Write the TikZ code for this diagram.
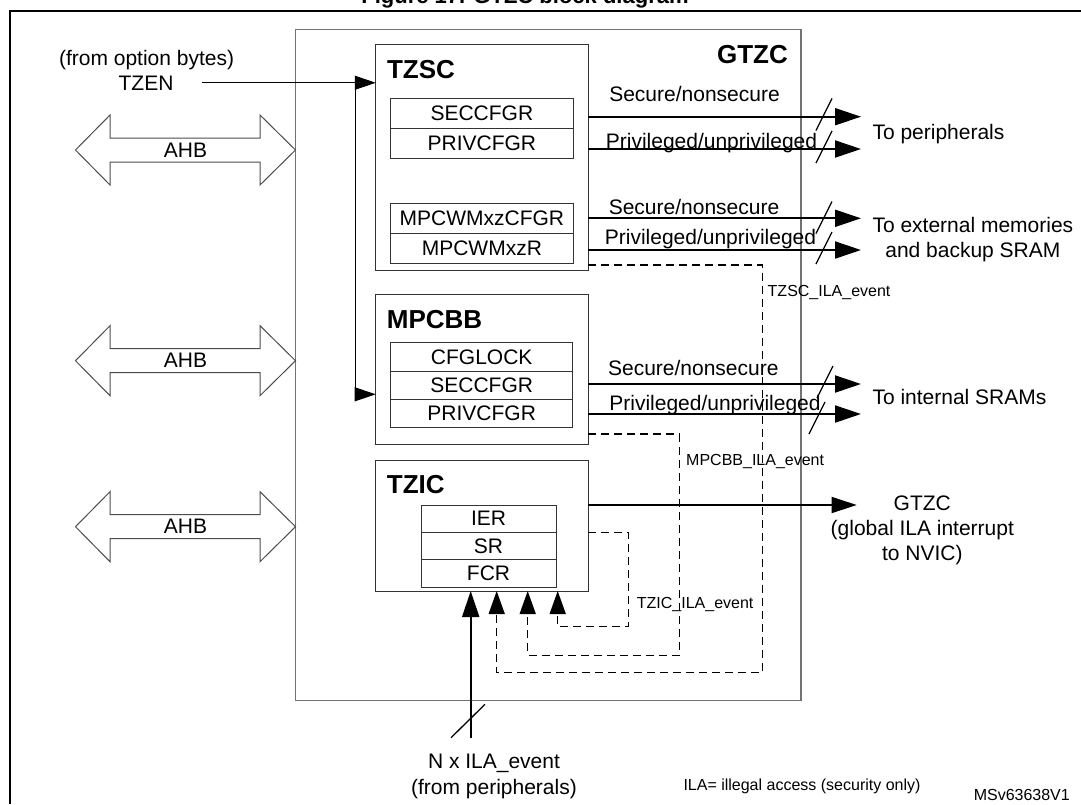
\documentclass[tikz,border=0pt]{standalone}
\usepackage{fontspec}
\setmainfont{Liberation Sans}
\usetikzlibrary{arrows.meta,positioning}

\tikzset{
	unitbox/.style={draw=black!80, line width=1pt, inner sep=0pt, outer sep=0pt},
	regbox/.style 2 args={draw=black!80, line width=1pt, inner sep=0pt, outer sep=0pt,
		minimum width=#1, minimum height=#2, font=\fontsize{21}{25}\selectfont},
	txt/.style={inner sep=0pt, font=\fontsize{21}{25}\selectfont},
	unitlbl/.style={inner sep=0pt, font=\bfseries\fontsize{26}{30}\selectfont},
	evlbl/.style={inner sep=0pt, font=\fontsize{16}{19}\selectfont},
	sink/.style={txt, outer xsep=11.5pt, outer ysep=0pt},
	busline/.style={line width=2pt, -{Triangle[length=26pt,width=17pt]}},
	irqline/.style={line width=1.5pt, -{Triangle[length=25pt,width=16pt]}},
	tzenline/.style={line width=1pt, -{Triangle[length=21pt,width=14pt]}},
	evline/.style={line width=1.5pt, dash pattern=on 8pt off 5pt, -{Triangle[length=23pt,width=16pt]}},
	buscut/.style={line width=1.3pt},
	ahbbus/.style={draw=black!70, line width=1pt, line join=miter},
}

\begin{document}
\begin{tikzpicture}[x=1pt,y=-1pt]
	\useasboundingbox (0,0) rectangle (1081,804);
	\node[inner sep=0pt, anchor=base, font=\bfseries\fontsize{22}{26}\selectfont] (caption) at (525,3) {Figure 17. GTZC block diagram};
	\draw[line width=2pt] (9.6,804) |- (1081,11);

	% GTZC and its units
	\node[unitbox, draw=black!55, line width=1.3pt, minimum width=505.5pt, minimum height=671.4pt] (gtzc) at (548.25,365) {};
	\node[unitlbl, anchor=base east] (gtzclbl) at (788,63.3) {GTZC};
	\node[unitbox, minimum width=212.2pt, minimum height=226.4pt] (tzsc) at (481.9,157.5) {};
	\node[unitbox, minimum width=212.6pt, minimum height=150pt] (mpcbb) at (482,369) {};
	\node[unitbox, minimum width=212.6pt, minimum height=131pt] (tzic) at (482,525.5) {};
	\node[unitlbl, anchor=base west] (tzsclbl) at ([xshift=11pt,yshift=-34.6pt]tzsc.north west) {TZSC};
	\node[unitlbl, anchor=base west] (mpcbblbl) at ([xshift=11pt,yshift=-34.4pt]mpcbb.north west) {MPCBB};
	\node[unitlbl, anchor=base west] (tziclbl) at ([xshift=11pt,yshift=-33.4pt]tzic.north west) {TZIC};

	% registers
	\node[regbox={183pt}{30pt}] (tzsec) at (481.85,113) {SECCFGR};
	\node[regbox={183pt}{30pt}, below=0pt of tzsec] (tzpriv) {PRIVCFGR};
	\node[regbox={183pt}{30pt}] (tzwmcfg) at (481.85,218) {MPCWMxzCFGR};
	\node[regbox={183pt}{30pt}, below=0pt of tzwmcfg] (tzwmr) {MPCWMxzR};
	\node[regbox={182pt}{28.4pt}] (bblock) at (481.7,356.9) {CFGLOCK};
	\node[regbox={182pt}{28.4pt}, below=0pt of bblock] (bbsec) {SECCFGR};
	\node[regbox={182pt}{28.4pt}, below=0pt of bbsec] (bbpriv) {PRIVCFGR};
	\node[regbox={135pt}{27.4pt}] (icier) at (488.5,518.7) {IER};
	\node[regbox={135pt}{27.4pt}, below=0pt of icier] (icsr) {SR};
	\node[regbox={135pt}{27.4pt}, below=0pt of icsr] (icfcr) {FCR};

	% AHB buses
	\draw[ahbbus] (75.5,150) --++ (34.5,-35) --++ (0,23) --++ (150,0) --++ (0,-23) --++ (35.5,35) --++ (-35.5,35) --++ (0,-23) --++ (-150,0) --++ (0,23) -- cycle;
	\draw[ahbbus] (75.5,360.7) --++ (34.5,-35) --++ (0,23) --++ (150,0) --++ (0,-23) --++ (35.5,35) --++ (-35.5,35) --++ (0,-23) --++ (-150,0) --++ (0,23) -- cycle;
	\draw[ahbbus] (75.5,526.7) --++ (34.5,-35) --++ (0,23) --++ (150,0) --++ (0,-23) --++ (35.5,35) --++ (-35.5,35) --++ (0,-23) --++ (-150,0) --++ (0,23) -- cycle;
	\node[txt] (ahb1) at (185.5,150) {AHB};
	\node[txt] (ahb2) at (185.5,360.7) {AHB};
	\node[txt] (ahb3) at (185.5,526.7) {AHB};

	% TZEN input
	\node[txt, anchor=base] (optb) at (146.6,65) {(from option bytes)};
	\node[txt, anchor=base] (tzen) at (146,90) {TZEN};
	\draw[tzenline] ([xshift=28.3pt]tzen.east) -- (tzen.east -| tzsc.west);
	\draw[tzenline] (tzen.east -| 355,0) |- ([yshift=-25.3pt]mpcbb.west);

	% outputs
	\node[sink, anchor=base west] (toper) at (861,139.2) {To peripherals};
	\node[sink, anchor=north west, align=center] (toext) at (861,217.2) {To external memories\\and backup SRAM};
	\node[sink, anchor=base west] (tosram) at (861,404.8) {To internal SRAMs};
	\node[txt, anchor=north, align=center] (toirq) at (922.3,495.5) {GTZC\\(global ILA interrupt\\to NVIC)};
	\coordinate (irqend) at (856.7,505);

	\node[txt, anchor=base] (sec1) at (694.5,101.5) {Secure/nonsecure};
	\node[txt, anchor=base] (priv1) at (711.5,148.2) {Privileged/unprivileged};
	\node[txt, anchor=base] (sec2) at (694,214.2) {Secure/nonsecure};
	\node[txt, anchor=base] (priv2) at (710.5,244.8) {Privileged/unprivileged};
	\node[txt, anchor=base] (sec3) at (693.3,375.8) {Secure/nonsecure};
	\node[txt, anchor=base] (priv3) at (715,410.8) {Privileged/unprivileged};

	\draw[busline] (tzsc.east |- 0,116.7) -- (toper.west |- 0,116.7);
	\draw[busline] (tzsc.east |- 0,149) -- (toper.west |- 0,149);
	\draw[busline] (tzsc.east |- 0,218.3) -- (toext.west |- 0,218.3);
	\draw[busline] (tzsc.east |- 0,250) -- (toext.west |- 0,250);
	\draw[busline] (mpcbb.east |- 0,384) -- (tosram.west |- 0,384);
	\draw[busline] (mpcbb.east |- 0,414) -- (tosram.west |- 0,414);
	\draw[irqline] (tzic.east |- irqend) -- (irqend);

	\draw[buscut] (824,114.5) ++(-8,16) --++ (16,-32);
	\draw[buscut] (824,147) ++(-8,16) --++ (16,-32);
	\draw[buscut] (824,217.5) ++(-8,16) --++ (16,-32);
	\draw[buscut] (824,248) ++(-8,16) --++ (16,-32);
	\draw[buscut] (825,382) ++(-8,16) --++ (16,-32);
	\draw[buscut] (817,418) ++(-8,16) --++ (16,-32);

	% illegal access events
	\draw[evline] (tzsc.east |- 0,265) -| (762.3,672.3) -| (tzic.south -| 496.7,0);
	\draw[evline] (mpcbb.east |- 0,434) -| (679.3,655.3) -| (tzic.south -| 527.7,0);
	\draw[evline] (tzic.east |- icsr.north) -| (628.3,626.7) -| (tzic.south -| 557.7,0);
	\node[evlbl, anchor=base west] (tzscev) at (767.5,296.7) {TZSC\_ILA\_event};
	\node[evlbl, anchor=base west] (mpcbbev) at (686,465) {MPCBB\_ILA\_event};
	\node[evlbl, anchor=base west] (tzicev) at (636.7,608.3) {TZIC\_ILA\_event};

	\node[txt, anchor=north, align=center, font=\fontsize{21}{26}\selectfont] (evsrc) at (494,753.9) {N x ILA\_event\\(from peripherals)};
	\coordinate (evin) at (470.7,738);
	\draw[busline] (evin) -- (evin |- tzic.south);
	\draw[buscut] (468,721) ++(-17,16.7) --++ (34,-33.4);

	\node[evlbl, anchor=base west] (ilanote) at (683.3,790) {ILA= illegal access (security only)};
	\node[evlbl, anchor=base east] (docref) at (1070,800.5) {MSv63638V1};
\end{tikzpicture}
\end{document}
